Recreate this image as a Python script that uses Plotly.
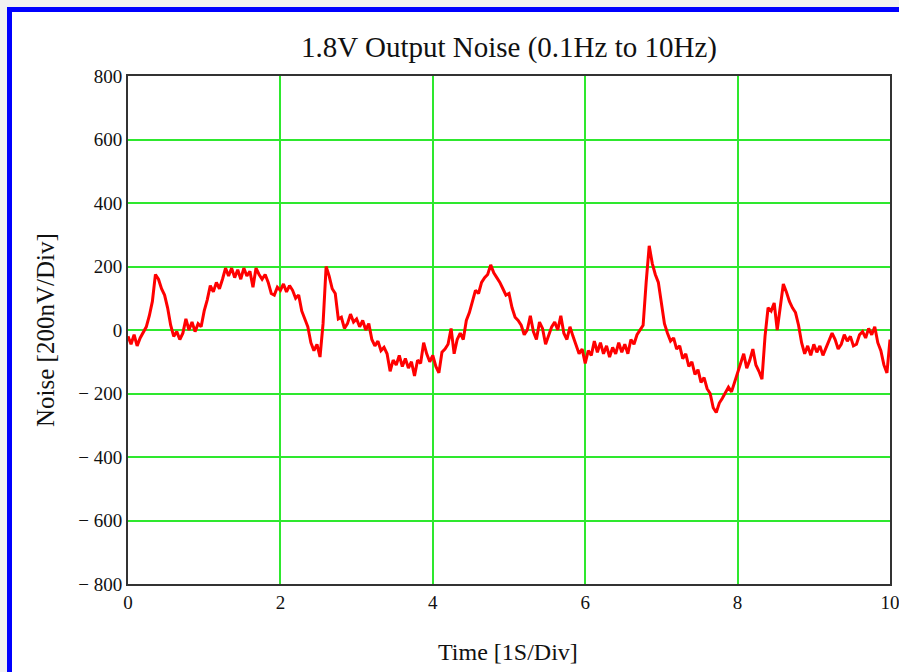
import plotly.graph_objects as go

sample_step_s = 0.04
noise_nv = [
    -20, -45, -15, -50, -25, -5, 10, 45, 90, 175,
    160, 130, 110, 70, 15, -20, -5, -30, -10, 35,
    0, 25, -5, 20, 10, 60, 95, 140, 120, 150,
    130, 160, 195, 170, 195, 165, 190, 160, 195, 170,
    185, 135, 195, 175, 160, 175, 150, 115, 110, 135,
    125, 145, 120, 140, 125, 100, 110, 60, 35, 10,
    -40, -65, -45, -85, 20, 200, 170, 130, 115, 35,
    40, 5, 20, 50, 25, 35, 10, 30, 0, 20,
    -30, -50, -35, -65, -55, -75, -130, -95, -110, -80,
    -115, -90, -120, -100, -145, -95, -105, -40, -75, -100,
    -80, -115, -135, -70, -60, -45, 5, -75, -30, -10,
    -30, 30, 55, 95, 125, 115, 150, 165, 175, 205,
    180, 165, 150, 130, 110, 115, 70, 40, 30, 15,
    -15, 0, 45, -5, -30, 25, 5, -45, -20, 10,
    25, 0, 45, -10, -30, 10, -20, -50, -75, -60,
    -105, -65, -80, -35, -70, -40, -75, -50, -85, -55,
    -75, -40, -70, -45, -75, -30, -45, -15, 0, 15,
    150, 265, 210, 175, 150, 80, 20, -10, -35, -25,
    -60, -50, -90, -75, -115, -100, -140, -125, -165, -150,
    -185, -200, -245, -260, -230, -215, -195, -180, -195, -165,
    -130, -100, -75, -120, -95, -60, -110, -130, -155, -20,
    70, 60, 85, 0, 80, 145, 120, 90, 70, 55,
    15, -40, -75, -50, -80, -45, -70, -50, -80, -55,
    -35, -10, -30, -60, -45, -15, -35, -20, -50, -45,
    -15, -5, -25, 5, -15, 10, -40, -65, -110, -135,
    -30,
]
time_s = [round(i * sample_step_s, 2) for i in range(len(noise_nv))]

y_tick_vals = [-800, -600, -400, -200, 0, 200, 400, 600, 800]
y_tick_text = ["\u2212 800", "\u2212 600", "\u2212 400", "\u2212 200", "0", "200", "400", "600", "800"]
x_tick_vals = [0, 2, 4, 6, 8, 10]
x_tick_text = ["0", "2", "4", "6", "8", "10"]

title_text = "1.8V Output Noise (0.1Hz to 10Hz)"
x_title = "Time [1S/Div]"
y_title = "Noise [200nV/Div]"

# ---- figure ----
W, H = 899, 672
L, R, T, B = 128, 9, 76, 88
pw, ph = W - L - R, H - T - B

def px(x):
    return (x - L) / pw

def py(y):
    return (H - B - y) / ph

SERIF = "Liberation Serif, Times New Roman, serif"
GRID = "#2ee82e"

fig = go.Figure()
fig.add_trace(go.Scatter(
    x=time_s, y=noise_nv, mode="lines",
    line=dict(color="#ff0000", width=3),
    showlegend=False, hoverinfo="skip",
))

fig.update_layout(
    width=W, height=H,
    margin=dict(l=L, r=R, t=T, b=B, pad=0, autoexpand=False),
    paper_bgcolor="white", plot_bgcolor="white",
    font=dict(family=SERIF, color="black"),
    title=dict(text=title_text, x=509 / W, xref="container", xanchor="center",
               y=1 - 47 / H, yref="container", yanchor="middle",
               font=dict(family=SERIF, size=29, color="#111")),
    xaxis=dict(range=[0, 10], tickvals=x_tick_vals, ticktext=x_tick_text,
               automargin=False, ticklabeloverflow="allow",
               showgrid=True, gridcolor=GRID, gridwidth=1.5,
               zeroline=False, showline=True, linecolor="#333", linewidth=2,
               mirror=True, ticks="", tickfont=dict(family=SERIF, size=19, color="#111"),
               ticklabelstandoff=0),
    yaxis=dict(range=[-800, 800], tickvals=y_tick_vals, ticktext=y_tick_text,
               automargin=False, ticklabeloverflow="allow",
               showgrid=True, gridcolor=GRID, gridwidth=1.5,
               zeroline=False, showline=True, linecolor="#333", linewidth=2,
               mirror=True, ticks="", tickfont=dict(family=SERIF, size=19, color="#111"),
               ticklabelstandoff=0),
    annotations=[
        dict(text=x_title, xref="paper", yref="paper", x=px(508), y=py(652),
             xanchor="center", yanchor="middle", showarrow=False,
             font=dict(family=SERIF, size=24, color="#111")),
        dict(text=y_title, xref="paper", yref="paper", x=px(45), y=py(330),
             xanchor="center", yanchor="middle", showarrow=False, textangle=-90,
             font=dict(family=SERIF, size=25, color="#111")),
    ],
    shapes=[
        # faint page background outside frame
        dict(type="rect", xref="paper", yref="paper", x0=px(0), x1=px(7), y0=py(H), y1=py(0),
             fillcolor="#f1f1f1", line=dict(width=0), layer="below"),
        dict(type="rect", xref="paper", yref="paper", x0=px(0), x1=px(W), y0=py(7), y1=py(0),
             fillcolor="#f1f1f1", line=dict(width=0), layer="below"),
        # blue frame
        dict(type="rect", xref="paper", yref="paper", x0=px(7), x1=px(W), y0=py(12), y1=py(7),
             fillcolor="#0000ff", line=dict(width=0), layer="above"),
        dict(type="rect", xref="paper", yref="paper", x0=px(7), x1=px(12), y0=py(H), y1=py(7),
             fillcolor="#0000ff", line=dict(width=0), layer="above"),
    ],
)

fig.write_html("out.html")
